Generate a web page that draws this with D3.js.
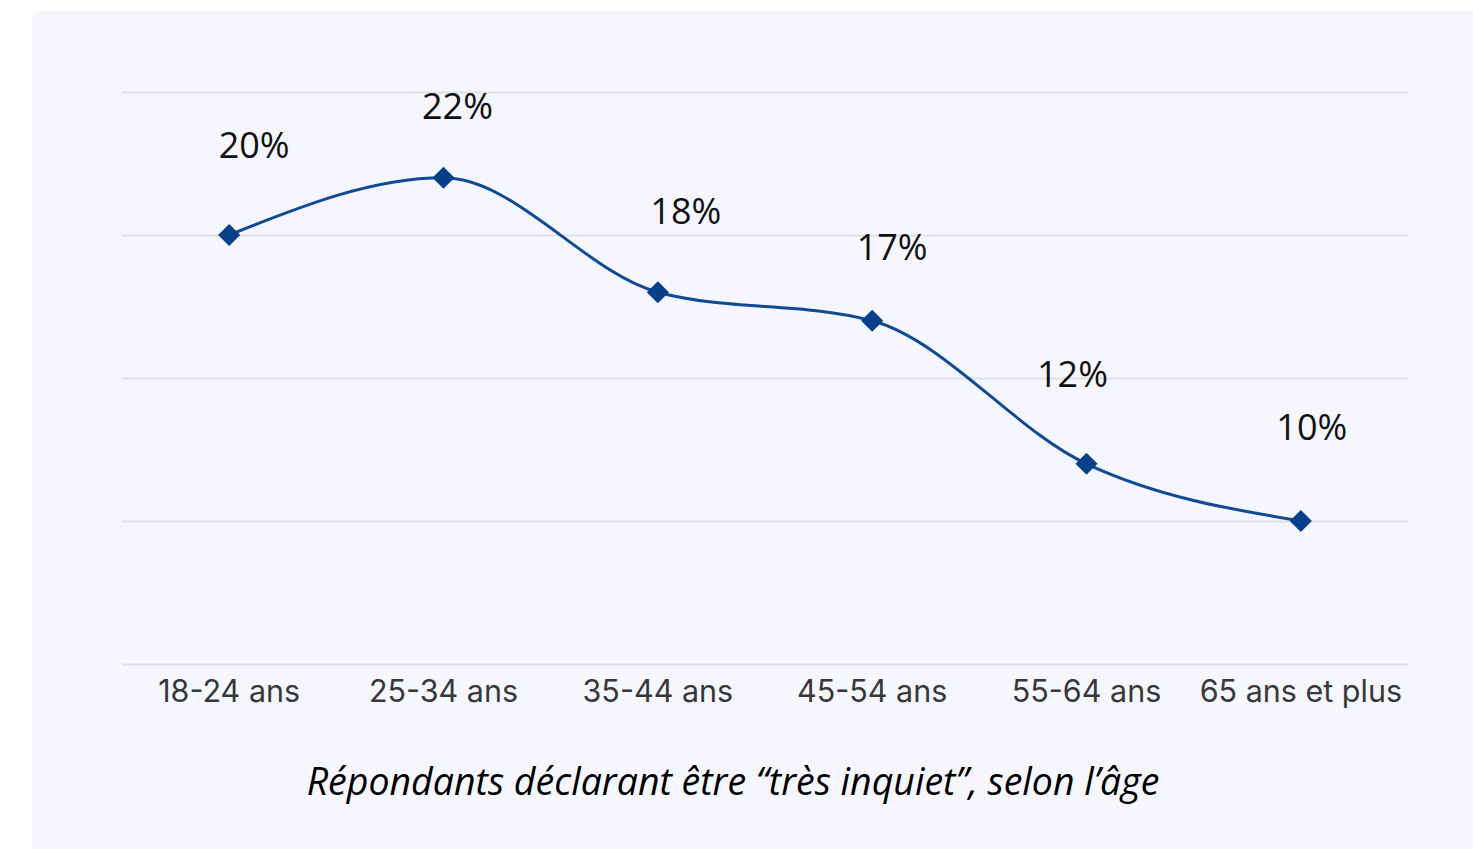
<!DOCTYPE html>
<html>
<head>
<meta charset="utf-8">
<script src="https://cdn.jsdelivr.net/npm/d3@7"></script>
<style>
  html, body { margin: 0; padding: 0; background: #ffffff; }
  svg { display: block; }
</style>
</head>
<body>
<svg id="chart" width="1473" height="849"></svg>
<script>
const categories = ["18-24 ans", "25-34 ans", "35-44 ans", "45-54 ans", "55-64 ans", "65 ans et plus"];
const values = [20, 22, 18, 17, 12, 10];
const valueLabels = ["20%", "22%", "18%", "17%", "12%", "10%"];
const yTicks = [5, 10, 15, 20, 25];
const labelOffsetX = [25, 14, 28, 20, -14, 11];
const labelOffsetY = [-77, -59, -68, -61, -77, -81];
const title = "Répondants déclarant être “très inquiet”, selon l’âge";

const svg = d3.select("#chart");
const W = 1473, H = 849;
const margin = { left: 122, right: 65, top: 92, bottom: 185 };

svg.append("rect")
  .attr("x", 32).attr("y", 11)
  .attr("width", W - 32 + 10).attr("height", H - 11 + 10)
  .attr("rx", 9)
  .attr("fill", "#f5f6fe");

const x = d3.scaleBand()
  .domain(categories)
  .range([margin.left, W - margin.right])
  .padding(0);

const y = d3.scaleLinear()
  .domain([5, 25])
  .range([H - margin.bottom, margin.top]);

// grid
const grid = svg.append("g")
  .attr("transform", `translate(${margin.left},0)`)
  .call(d3.axisLeft(y).tickValues(yTicks).tickSize(-(W - margin.left - margin.right)).tickFormat(""));
grid.select(".domain").remove();
grid.selectAll(".tick line").attr("stroke", "#dfe0e8").attr("stroke-width", 2);

// x axis labels
const xAxis = svg.append("g")
  .attr("transform", `translate(0,${H - margin.bottom})`)
  .call(d3.axisBottom(x).tickSize(0).tickPadding(0));
xAxis.select(".domain").remove();
xAxis.selectAll(".tick text")
  .attr("dy", 0)
  .attr("y", 38)
  .attr("font-family", "Inter, sans-serif")
  .attr("font-size", 30.5)
  .attr("fill", "#383838");

const cx = d => x(d) + x.bandwidth() / 2;

const line = d3.line()
  .x((d, i) => cx(categories[i]))
  .y(d => y(d))
  .curve(d3.curveMonotoneX);

svg.append("path")
  .datum(values)
  .attr("d", line)
  .attr("fill", "none")
  .attr("stroke", "#0f4a93")
  .attr("stroke-width", 3);

svg.append("g").selectAll("path")
  .data(values)
  .join("path")
  .attr("d", d3.symbol(d3.symbolSquare, 245)())
  .attr("transform", (d, i) => `translate(${cx(categories[i])},${y(d)}) rotate(45)`)
  .attr("fill", "#073f8a");

svg.append("g").selectAll("text")
  .data(values)
  .join("text")
  .attr("x", (d, i) => cx(categories[i]) + labelOffsetX[i])
  .attr("y", (d, i) => y(d) + labelOffsetY[i])
  .attr("text-anchor", "middle")
  .attr("font-family", "'Open Sans', sans-serif")
  .attr("font-size", 36)
  .attr("fill", "#111111")
  .text((d, i) => valueLabels[i]);

svg.append("text")
  .attr("x", 733)
  .attr("y", 795)
  .attr("text-anchor", "middle")
  .attr("font-family", "'Open Sans', sans-serif")
  .attr("font-style", "italic")
  .attr("font-size", 37.5)
  .attr("fill", "#000000")
  .text(title);
</script>
</body>
</html>
